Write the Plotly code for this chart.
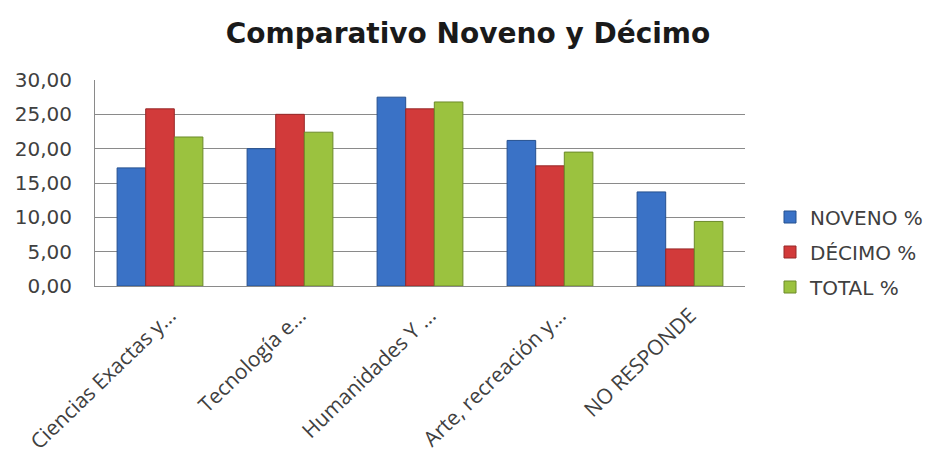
import plotly.graph_objects as go

categorias = [
    "Ciencias Exactas y...",
    "Tecnología e...",
    "Humanidades Y ...",
    "Arte, recreación y...",
    "NO RESPONDE",
]
noveno = [17.2, 20.0, 27.5, 21.2, 13.7]
decimo = [25.8, 25.0, 25.8, 17.5, 5.4]
total = [21.7, 22.4, 26.8, 19.5, 9.4]

series = [
    ("NOVENO %", noveno, "#3a72c6", "#25508f"),
    ("DÉCIMO %", decimo, "#d23a3a", "#962828"),
    ("TOTAL %", total, "#9bc23f", "#6c8a2a"),
]

FUENTE = "DejaVu Sans"

fig = go.Figure()
for nombre, valores, color, borde in series:
    fig.add_trace(go.Bar(
        x=categorias, y=valores, name=nombre, legendgroup=nombre,
        marker=dict(color=color, line=dict(color=borde, width=1)),
    ))

fig.update_layout(
    width=933, height=455,
    margin=dict(l=95, r=188, t=80, b=169, autoexpand=False),
    paper_bgcolor="white", plot_bgcolor="white",
    separators=",.",
    barmode="group", bargap=0.34, bargroupgap=0,
    font=dict(family=FUENTE, color="#404040"),
    title=dict(
        text="<b>Comparativo Noveno y Décimo</b>",
        x=468 / 933, xanchor="center", xref="container",
        y=1 - 33 / 455, yanchor="middle", yref="container",
        font=dict(family=FUENTE, size=28, color="#1a1a1a"),
    ),
    legend=dict(
        xref="container", yref="container",
        x=770 / 933, xanchor="left", y=1 - 252 / 455, yanchor="middle",
        font=dict(size=20, color="#404040"),
        tracegroupgap=6, itemwidth=30,
    ),
    showlegend=True,
)
fig.update_yaxes(
    range=[0, 30], dtick=5, tickformat=".2f",
    showgrid=True, gridcolor="#8a8a8a", gridwidth=1,
    showline=True, linecolor="#8a8a8a", linewidth=1,
    zeroline=False, ticks="", ticklabelstandoff=18, automargin=False,
    tickfont=dict(size=20, color="#404040"),
)
fig.update_xaxes(
    tickangle=-44, showline=True, linecolor="#8a8a8a", linewidth=1,
    tickfont=dict(family="Open Sans", size=21, color="#404040"),
    ticks="", automargin=False,
    ticklabelstandoff=8, ticklabelshift=10,
)

fig.write_html("out.html")
